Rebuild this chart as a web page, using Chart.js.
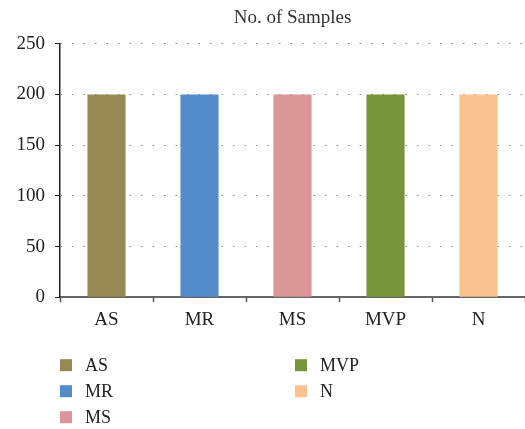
<!DOCTYPE html>
<html lang="en">
<head>
    <meta charset="UTF-8" />
    <title>No. of Samples</title>
    <script src="https://cdn.jsdelivr.net/npm/chart.js"></script>
    <style>
        html, body { margin: 0; padding: 0; background: #fff; }
        .chart-box { width: 525px; height: 429px; }
    </style>
</head>
<body>
    <div class="chart-box">
        <canvas id="samplesChart"></canvas>
    </div>

    <script>
        // chart data
        const classes = ['AS', 'MR', 'MS', 'MVP', 'N'];
        const sampleCounts = [200, 200, 200, 200, 200];
        const barColors = ['#968a52', '#548bcb', '#db9596', '#77943a', '#fac28f'];
        const yTicks = [0, 50, 100, 150, 200, 250];

        const serif = "'Liberation Serif', 'DejaVu Serif', serif";

        // two-column legend drawn under the axis
        const columnLegend = {
            id: 'columnLegend',
            afterDraw(chart) {
                const ctx = chart.ctx;
                const left = chart.chartArea.left;
                const top = chart.chartArea.bottom + 68;
                ctx.save();
                ctx.font = '18px ' + serif;
                ctx.textBaseline = 'middle';
                classes.forEach((name, i) => {
                    const col = i < 3 ? 0 : 1;
                    const row = i < 3 ? i : i - 3;
                    const x = left + col * 235;
                    const y = top + row * 26;
                    ctx.fillStyle = barColors[i];
                    ctx.fillRect(x, y - 6, 12, 12);
                    ctx.fillStyle = '#222';
                    ctx.fillText(name, x + 25, y + 1);
                });
                ctx.restore();
            }
        };

        const ctx = document.getElementById('samplesChart').getContext('2d');
        new Chart(ctx, {
            type: 'bar',
            data: {
                labels: classes,
                datasets: [{
                    label: 'No. of Samples',
                    data: sampleCounts,
                    backgroundColor: barColors,
                    barPercentage: 0.41,
                    categoryPercentage: 1
                }]
            },
            options: {
                responsive: true,
                maintainAspectRatio: false,
                animation: false,
                layout: { padding: { left: 0, right: 0, top: 0, bottom: 92 } },
                plugins: {
                    legend: { display: false },
                    tooltip: { enabled: false },
                    title: {
                        display: true,
                        fullSize: false,
                        text: 'No. of Samples',
                        color: '#333',
                        font: { family: serif, size: 19, weight: 'normal' },
                        padding: { top: 7, bottom: 14 }
                    }
                },
                scales: {
                    x: {
                        offset: true,
                        grid: {
                            offset: true,
                            drawOnChartArea: false,
                            drawTicks: true,
                            tickLength: 5,
                            tickColor: '#555',
                            tickWidth: 1.5
                        },
                        border: { color: '#666', width: 2 },
                        ticks: {
                            color: '#222',
                            padding: 6,
                            font: { family: serif, size: 19 }
                        }
                    },
                    y: {
                        min: 0,
                        max: 250,
                        afterBuildTicks: axis => {
                            axis.ticks = yTicks.map(v => ({ value: v }));
                        },
                        afterFit: axis => { axis.width = 60; },
                        grid: {
                            color: '#888',
                            lineWidth: 1,
                            drawTicks: true,
                            tickLength: 5,
                            tickColor: '#222',
                            tickBorderDash: []
                        },
                        border: { color: '#222', width: 1.5, dash: [1.5, 10] },
                        ticks: {
                            color: '#222',
                            padding: 10,
                            font: { family: serif, size: 19 }
                        }
                    }
                }
            },
            plugins: [columnLegend]
        });
    </script>
</body>
</html>
